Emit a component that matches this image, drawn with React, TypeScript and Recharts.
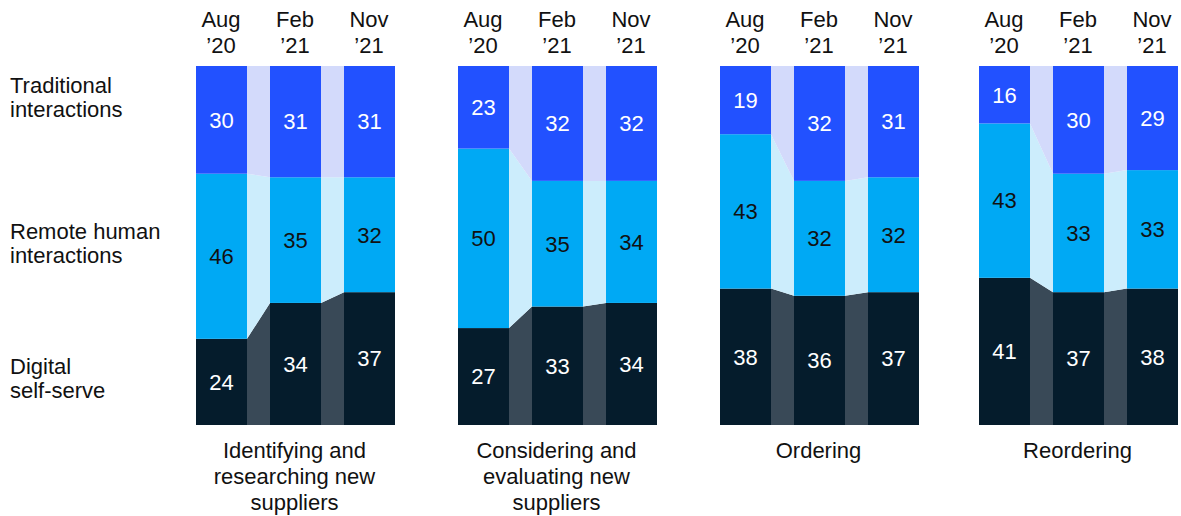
import React from "react";
import { Bar, BarChart, LabelList, XAxis, YAxis } from "recharts";

// survey share (%) by channel, per buying stage and survey wave
const periods = ["Aug ’20", "Feb ’21", "Nov ’21"];
const stages = [
  "Identifying and\nresearching new\nsuppliers",
  "Considering and\nevaluating new\nsuppliers",
  "Ordering",
  "Reordering",
];
const channelLabels = [
  "Traditional\ninteractions",
  "Remote human\ninteractions",
  "Digital\nself-serve",
];
const digital = [
  [24, 34, 37],
  [27, 33, 34],
  [38, 36, 37],
  [41, 37, 38],
];
const remote = [
  [46, 35, 32],
  [50, 35, 34],
  [43, 32, 32],
  [43, 33, 33],
];
const traditional = [
  [30, 31, 31],
  [23, 32, 32],
  [19, 32, 31],
  [16, 30, 29],
];

const FONT = '"Liberation Sans", Arial, sans-serif';
const FS = 22;
const KEYS = ["digital", "remote", "traditional"] as const;
const SERIES = {
  digital: { fill: "#051c2c", light: "#394957", text: "#ffffff" },
  remote: { fill: "#00a9f4", light: "#ccedfc", text: "#111111" },
  traditional: { fill: "#2251ff", light: "#d3dafb", text: "#ffffff" },
};

const PITCH = 74;
const BAR_W = 51;
const CHART_W = PITCH * 3;
const GROUP_LEFT = [183.5, 445.5, 707.5, 966.5];

type Row = { period: string; digital: number; remote: number; traditional: number };

const makeShape =
  (key: (typeof KEYS)[number], rows: Row[]) =>
  (props: any) => {
    const { x, y, width, height, index } = props;
    const k = KEYS.indexOf(key);
    const lowOf = (r: Row) => KEYS.slice(0, k).reduce((s, kk) => s + r[kk], 0);
    const row = rows[index];
    const scale = height / row[key];
    const zeroY = y + height + lowOf(row) * scale;
    let connector = null;
    if (index < rows.length - 1) {
      const next = rows[index + 1];
      const nLow = lowOf(next);
      const nHigh = nLow + next[key];
      const x1 = x + width;
      const x2 = x + PITCH;
      const pts = `${x1},${y} ${x2},${zeroY - nHigh * scale} ${x2},${zeroY - nLow * scale} ${x1},${y + height}`;
      connector = <polygon points={pts} fill={SERIES[key].light} />;
    }
    return (
      <g>
        {connector}
        <rect x={x} y={y} width={width} height={height} fill={SERIES[key].fill} />
      </g>
    );
  };

const PeriodTick = (props: any) => {
  const { x, payload } = props;
  const [m, yr] = String(payload.value).split(" ");
  return (
    <text textAnchor="middle" fontFamily={FONT} fontSize={FS} fill="#111">
      <tspan x={x} y={27}>{m}</tspan>
      <tspan x={x} y={53}>{yr}</tspan>
    </text>
  );
};

const StageChart = ({ g }: { g: number }) => {
  const rows: Row[] = periods.map((p, i) => ({
    period: p,
    digital: digital[g][i],
    remote: remote[g][i],
    traditional: traditional[g][i],
  }));
  return (
    <div style={{ position: "absolute", left: GROUP_LEFT[g], top: 0 }}>
      <BarChart
        width={CHART_W}
        height={425}
        data={rows}
        margin={{ top: 6, right: 0, bottom: 0, left: 0 }}
        barCategoryGap={0}
        barSize={BAR_W}
      >
        <XAxis
          dataKey="period"
          orientation="top"
          height={60}
          axisLine={false}
          tickLine={false}
          interval={0}
          tick={<PeriodTick />}
        />
        <YAxis hide domain={[0, 100]} />
        {KEYS.map((key) => (
          <Bar
            key={key}
            dataKey={key}
            stackId="s"
            shape={makeShape(key, rows)}
            isAnimationActive={false}
          >
            <LabelList
              dataKey={key}
              position="center"
              fill={SERIES[key].text}
              fontSize={FS}
              fontFamily={FONT}
            />
          </Bar>
        ))}
      </BarChart>
      <div
        style={{
          position: "absolute",
          left: -20,
          top: 438.4,
          width: CHART_W + 40,
          textAlign: "center",
          whiteSpace: "pre-line",
          fontFamily: FONT,
          fontSize: FS,
          lineHeight: "26px",
          color: "#111",
        }}
      >
        {stages[g]}
      </div>
    </div>
  );
};

export default function App() {
  const labelTops = [74.4, 220.4, 355.4];
  return (
    <div
      style={{
        position: "absolute",
        left: 0,
        top: 0,
        width: 1181,
        height: 516,
        background: "#fff",
        overflow: "hidden",
      }}
    >
      {channelLabels.map((t, i) => (
        <div
          key={t}
          style={{
            position: "absolute",
            left: 10,
            top: labelTops[i],
            whiteSpace: "pre-line",
            fontFamily: FONT,
            fontSize: FS,
            lineHeight: "24px",
            color: "#111",
          }}
        >
          {t}
        </div>
      ))}
      {stages.map((_, g) => (
        <StageChart key={g} g={g} />
      ))}
    </div>
  );
}
